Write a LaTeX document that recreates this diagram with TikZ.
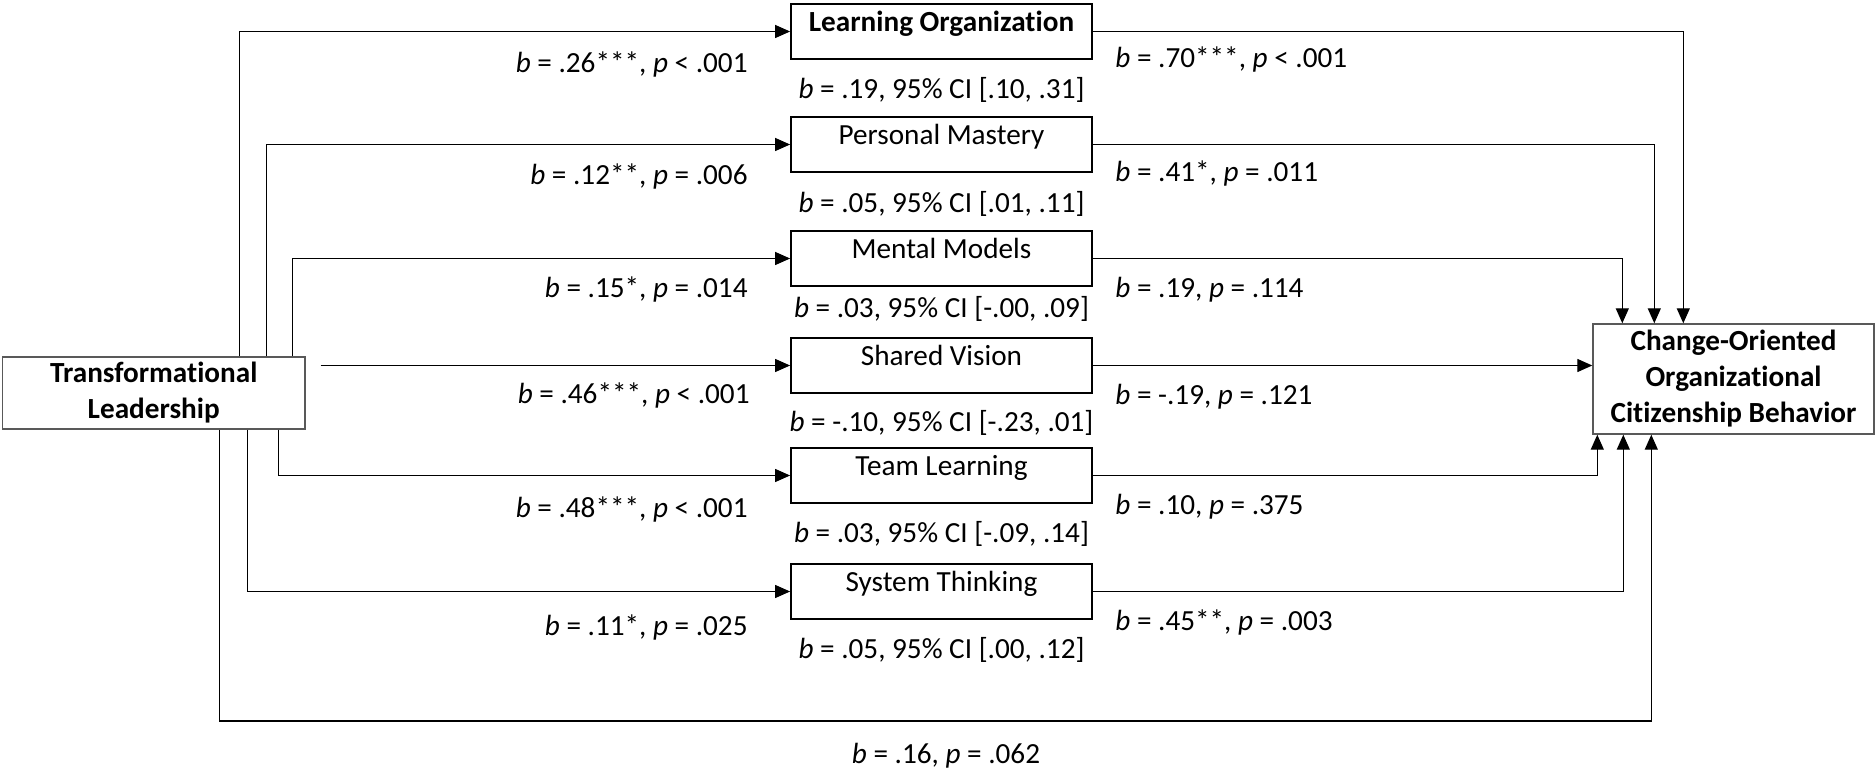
\documentclass[tikz,border=0pt]{standalone}
\usepackage{fontspec}
\setmainfont[Ligatures=NoCommon]{Carlito}
\usetikzlibrary{arrows.meta,calc}
\begin{document}
\begin{tikzpicture}[x=0.5pt,y=-0.5pt,
  font=\fontsize{14.6}{18}\selectfont,
  wire/.style={line width=0.65pt, draw=black},
  arr/.style={wire, -{Triangle[length=7.5pt,width=6.5pt]}},
  medbox/.style={draw=black, line width=0.9pt, minimum width=150.5pt, minimum height=27.5pt, inner sep=0pt},
  endbox/.style={draw=black!65, line width=0.7pt, inner sep=0pt, align=center,
    font=\fontsize{14.6}{18}\selectfont\bfseries},
  boxtext/.style={anchor=base, inner sep=0pt},
  coef/.style={inner sep=0pt},
]
\useasboundingbox (0,0) rectangle (1876,770);

% predictor and outcome
\node[endbox, minimum width=151.25pt, minimum height=36pt] (tl) at (153.75,393) {Transformational\\Leadership};
\node[endbox, minimum width=140.5pt, minimum height=55pt] (oc) at (1733.5,379) {Change-Oriented\\Organizational\\Citizenship Behavior};

% mediators
\node[medbox] (lo) at (941.5,31.5) {};
\node[medbox] (pm) at (941.5,144.5) {};
\node[medbox] (mm) at (941.5,258.5) {};
\node[medbox] (sv) at (941.5,365.5) {};
\node[medbox] (tm) at (941.5,475.5) {};
\node[medbox] (st) at (941.5,591.5) {};

\node[boxtext, font=\fontsize{14.6}{18}\selectfont\bfseries] (lot) at (lo.center) {Learning Organization};
\node[boxtext] (pmt) at (pm.center) {Personal Mastery};
\node[boxtext] (mmt) at (mm.center) {Mental Models};
\node[boxtext] (svt) at (sv.center) {Shared Vision};
\node[boxtext] (tmt) at (tm.center) {Team Learning};
\node[boxtext] (stt) at (st.center) {System Thinking};

% leg origins on the predictor box
\coordinate (tlt1) at ($(tl.north west)+(237.5,0)$);
\coordinate (tlt2) at ($(tl.north west)+(264.5,0)$);
\coordinate (tlt3) at ($(tl.north west)+(290.5,0)$);
\coordinate (tlb1) at ($(tl.south west)+(276.5,0)$);
\coordinate (tlb2) at ($(tl.south west)+(245.5,0)$);
\coordinate (tlb3) at ($(tl.south west)+(217.5,0)$);
\coordinate (tlsv) at ($(tl.east |- sv.west)+(15,0)$);

% arrival points on the outcome box
\coordinate (oct1) at ($(oc.north west)+(30,0)$);
\coordinate (oct2) at ($(oc.north west)+(62,0)$);
\coordinate (oct3) at ($(oc.north west)+(91,0)$);
\coordinate (ocb1) at ($(oc.south west)+(5,0)$);
\coordinate (ocb2) at ($(oc.south west)+(31,0)$);
\coordinate (ocb3) at ($(oc.south west)+(59,0)$);
\coordinate (dbase) at (0,721);
\coordinate (dlow) at (ocb3 |- dbase);

% a paths
\draw[arr] (tlt1) |- (lo.west);
\draw[arr] (tlt2) |- (pm.west);
\draw[arr] (tlt3) |- (mm.west);
\draw[arr] (tlsv) -- (sv.west);
\draw[arr] (tlb1) |- (tm.west);
\draw[arr] (tlb2) |- (st.west);

% direct path
\draw[arr] (tlb3) |- (dlow) -- (ocb3);

% b paths
\draw[arr] (lo.east) -| (oct3);
\draw[arr] (pm.east) -| (oct2);
\draw[arr] (mm.east) -| (oct1);
\draw[arr] (sv.east) -- (oc.west |- sv.east);
\draw[arr] (tm.east) -| (ocb1);
\draw[arr] (st.east) -| (ocb2);

% a-path coefficients
\node[coef, anchor=base east] (a1) at (748,73) {\textit{b} = .26***, \textit{p} < .001};
\node[coef, anchor=base east] (a2) at (748,185) {\textit{b} = .12**, \textit{p} = .006};
\node[coef, anchor=base east] (a3) at (748,298) {\textit{b} = .15*, \textit{p} = .014};
\node[coef, anchor=base east] (a4) at (750,404) {\textit{b} = .46***, \textit{p} < .001};
\node[coef, anchor=base east] (a5) at (748,517) {\textit{b} = .48***, \textit{p} < .001};
\node[coef, anchor=base east] (a6) at (748,635) {\textit{b} = .11*, \textit{p} = .025};

% b-path coefficients
\node[coef, anchor=base west] (b1) at (1115,68) {\textit{b} = .70***, \textit{p} < .001};
\node[coef, anchor=base west] (b2) at (1115,182) {\textit{b} = .41*, \textit{p} = .011};
\node[coef, anchor=base west] (b3) at (1115,298) {\textit{b} = .19, \textit{p} = .114};
\node[coef, anchor=base west] (b4) at (1115,405) {\textit{b} = -.19, \textit{p} = .121};
\node[coef, anchor=base west] (b5) at (1115,515) {\textit{b} = .10, \textit{p} = .375};
\node[coef, anchor=base west] (b6) at (1115,630) {\textit{b} = .45**, \textit{p} = .003};

% indirect effects
\node[coef, anchor=base] (i1) at (941.5,99) {\textit{b} = .19, 95\% CI [.10, .31]};
\node[coef, anchor=base] (i2) at (941.5,213) {\textit{b} = .05, 95\% CI [.01, .11]};
\node[coef, anchor=base] (i3) at (941.5,318) {\textit{b} = .03, 95\% CI [-.00, .09]};
\node[coef, anchor=base] (i4) at (941.5,432) {\textit{b} = -.10, 95\% CI [-.23, .01]};
\node[coef, anchor=base] (i5) at (941.5,542) {\textit{b} = .03, 95\% CI [-.09, .14]};
\node[coef, anchor=base] (i6) at (941.5,658) {\textit{b} = .05, 95\% CI [.00, .12]};

% direct effect
\node[coef, anchor=base] (c1) at (946,763) {\textit{b} = .16, \textit{p} = .062};
\end{tikzpicture}
\end{document}
